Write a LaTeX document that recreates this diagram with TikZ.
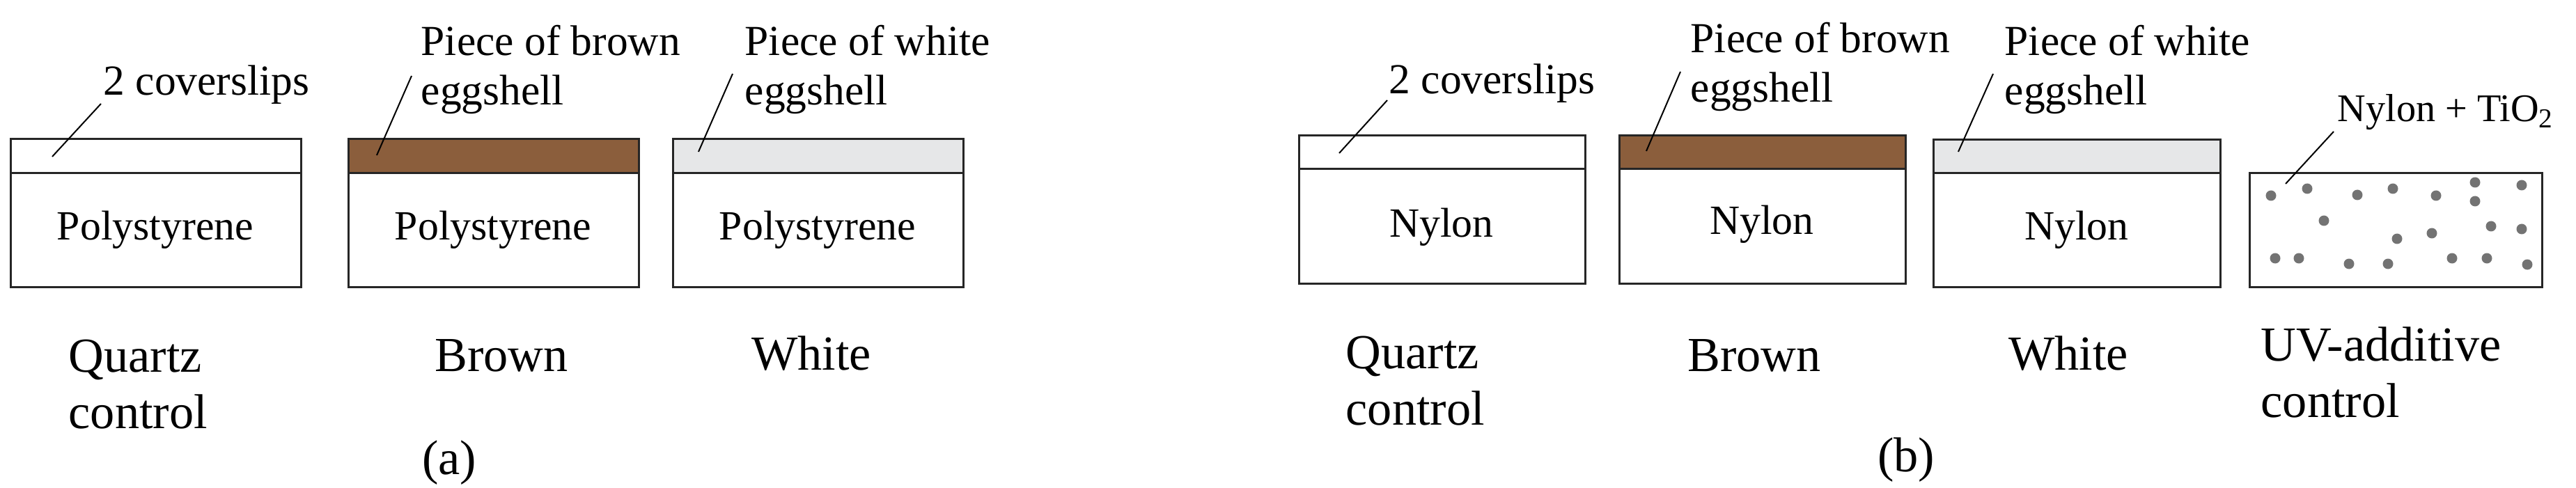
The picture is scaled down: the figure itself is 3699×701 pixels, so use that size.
\documentclass[tikz,border=0pt]{standalone}
\usepackage{fontspec}
\setmainfont{Liberation Serif}
\begin{document}
\begin{tikzpicture}[x=0.1mm,y=-0.1mm,
  box/.style={draw=black!85,line width=0.3mm},
  lead/.style={draw=black,line width=0.2mm},
  inlab/.style={font=\fontsize{17}{19}\selectfont,inner sep=0},
  toplab/.style={font=\fontsize{17.5}{20}\selectfont,inner sep=0,anchor=west,align=left},
  botlab/.style={font=\fontsize{20}{23}\selectfont,inner sep=0},
  dot/.style={fill=black!55,draw=none}]
\definecolor{eggbrown}{HTML}{8B5E3C}
\definecolor{egggray}{HTML}{E6E7E8}
\useasboundingbox (0,0) rectangle (3699,701);
% ---------- (a)
\filldraw[box,fill=white] (15,200) rectangle (432,249);
\draw[box] (15,249) rectangle (432,412);
\filldraw[box,fill=eggbrown] (500,200) rectangle (917,249);
\draw[box] (500,249) rectangle (917,412);
\filldraw[box,fill=egggray] (966,200) rectangle (1383,249);
\draw[box] (966,249) rectangle (1383,412);
\node[inlab] (pa1) at (223,330) {Polystyrene};
\node[inlab] (pa2) at (708,330) {Polystyrene};
\node[inlab] (pa3) at (1174,330) {Polystyrene};
\node[toplab] (ca) at (148,122) {2 coverslips};
\node[toplab] (ba) at (604,100) {Piece of brown\\eggshell};
\node[toplab] (wa) at (1069,100) {Piece of white\\eggshell};
\coordinate (cae) at (75,225); \coordinate (cas) at (145,149);
\coordinate (bae) at (541,223); \coordinate (bas) at (591,109);
\coordinate (wae) at (1003,218); \coordinate (was) at (1052,106);
\draw[lead] (cas) -- (cae);
\draw[lead] (bas) -- (bae);
\draw[lead] (was) -- (wae);
\node[botlab,anchor=west,align=left] (qa) at (98,552) {Quartz\\control};
\node[botlab] (bra) at (720,511) {Brown};
\node[botlab] (wha) at (1165,508) {White};
\node[botlab] (la) at (645,665) {(a)};
% ---------- (b)
\filldraw[box,fill=white] (1865,195) rectangle (2276,243);
\draw[box] (1865,243) rectangle (2276,407);
\filldraw[box,fill=eggbrown] (2325,195) rectangle (2736,243);
\draw[box] (2325,243) rectangle (2736,407);
\filldraw[box,fill=egggray] (2776,201) rectangle (3188,249);
\draw[box] (2776,249) rectangle (3188,412);
\draw[box] (3230,249) rectangle (3650,412);
\node[inlab] (nb1) at (2070,326) {Nylon};
\node[inlab] (nb2) at (2530,322) {Nylon};
\node[inlab] (nb3) at (2982,330) {Nylon};
\node[toplab] (cb) at (1994,120) {2 coverslips};
\node[toplab] (bb) at (2427,96) {Piece of brown\\eggshell};
\node[toplab] (wb) at (2878,100) {Piece of white\\eggshell};
\node[toplab,font=\fontsize{16}{18}\selectfont] (tb) at (3356,161) {Nylon + TiO\textsubscript{2}};
\coordinate (cbe) at (1923,220); \coordinate (cbs) at (1992,144);
\coordinate (bbe) at (2364,217); \coordinate (bbs) at (2413,103);
\coordinate (wbe) at (2812,218); \coordinate (wbs) at (2862,106);
\coordinate (tbe) at (3282,264); \coordinate (tbs) at (3351,189);
\draw[lead] (cbs) -- (cbe);
\draw[lead] (bbs) -- (bbe);
\draw[lead] (wbs) -- (wbe);
\draw[lead] (tbs) -- (tbe);
\foreach \x/\y in {3261/281,3313/271,3385/280,3436/271,3498/281,3554/262,3554/289,3621/266,
  3337/317,3442/343,3492/335,3577/325,3621/329,
  3267/371,3301/371,3373/379,3429/379,3521/371,3571/371,3629/380}
  \fill[dot] (\x,\y) circle (7.5);
\node[botlab,anchor=west,align=left] (qb) at (1932,547) {Quartz\\control};
\node[botlab] (brb) at (2519,511) {Brown};
\node[botlab] (whb) at (2970,508) {White};
\node[botlab,anchor=west,align=left] (ub) at (3246,535) {UV-additive\\control};
\node[botlab] (lb) at (2737,661) {(b)};
\end{tikzpicture}
\end{document}
